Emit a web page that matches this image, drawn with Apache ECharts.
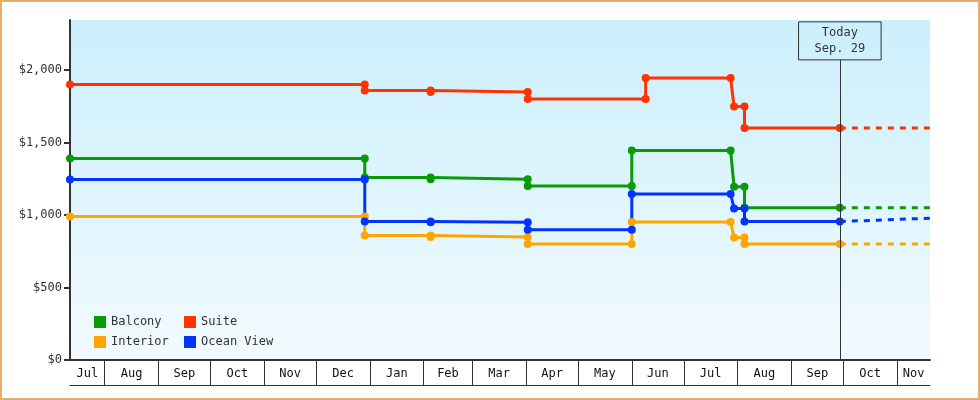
<!DOCTYPE html>
<html><head><meta charset="utf-8">
<script src="https://cdn.jsdelivr.net/npm/echarts@6/dist/echarts.min.js"></script>
<style>html,body{margin:0;padding:0;background:#fff}#c{width:980px;height:400px;box-sizing:border-box;border:2px solid #e9ac6a}</style>
</head><body><div id="c"></div>
<script>
// x = days since Jul 1 (first year)
var monthLabels = ['Jul','Aug','Sep','Oct','Nov','Dec','Jan','Feb','Mar','Apr','May','Jun','Jul','Aug','Sep','Oct','Nov'];
var monthStarts = [11,31,62,92,123,153,184,215,243,274,304,335,365,396,427,457,488,507];
var yTicks = [0,500,1000,1500,2000];
var todayX = 455;
var endX = 507;
var balcony = [[11,1390],[181,1390],[181,1258],[219,1258],[219,1246],[275,1246],[275,1200],[335,1200],[335,1445],[392,1445],[394,1195],[400,1195],[400,1050],[455,1050]];
var suite = [[11,1900],[181,1900],[181,1858],[219,1858],[219,1848],[275,1848],[275,1800],[343,1800],[343,1945],[392,1945],[394,1748],[400,1748],[400,1600],[455,1600]];
var interior = [[11,990],[181,990],[181,858],[219,858],[219,848],[275,848],[275,800],[335,800],[335,952],[392,952],[394,845],[400,845],[400,800],[455,800]];
var ocean = [[11,1245],[181,1245],[181,955],[219,955],[219,950],[275,950],[275,898],[335,898],[335,1145],[392,1145],[394,1045],[400,1045],[400,955],[455,955]];
var balconyFut = [[455,1050],[507,1050]];
var suiteFut = [[455,1600],[507,1600]];
var interiorFut = [[455,800],[507,800]];
var oceanFut = [[455,955],[507,978]];
var colors = {Balcony:'#079b06', Suite:'#ff3300', Interior:'#ffa500', 'Ocean View':'#0033ff'};

var mid = [];
for (var i=0;i<monthLabels.length;i++) mid.push((monthStarts[i]+monthStarts[i+1])/2);
var font = 'DejaVu Sans Mono';
function solid(name, data, extra){
  var s = {name:name,type:'line',data:data,symbol:'circle',symbolSize:8,color:colors[name],
    lineStyle:{width:3,color:colors[name]},itemStyle:{color:colors[name]},animation:false,z:3};
  if (extra) for (var k in extra) s[k]=extra[k];
  return s;
}
function fut(name, data){
  return {type:'line',data:data,showSymbol:false,symbol:'none',lineStyle:{width:3,type:[6,6],color:colors[name]},animation:false,silent:true};
}
function leg(name,left,top){
  return {data:[name],left:left,top:top,icon:'rect',itemWidth:12,itemHeight:12,itemGap:3,
    textStyle:{fontFamily:font,fontSize:12,color:'#333'},padding:0,selectedMode:false};
}
var chart = echarts.init(document.getElementById('c'));
chart.setOption({
  textStyle:{fontFamily:font},
  grid:{left:68,right:48,top:18,bottom:38,show:true,borderWidth:0,
    backgroundColor:{type:'linear',x:0,y:0,x2:0,y2:1,colorStops:[{offset:0,color:'#cbeffc'},{offset:1,color:'#f2fafe'}]}},
  legend:[leg('Balcony',92,314),leg('Suite',182,314),leg('Interior',92,334),leg('Ocean View',182,334)],
  xAxis:[{type:'value',min:11,max:507,position:'bottom',
    axisLine:{show:true,lineStyle:{color:'#333',width:2}},
    axisTick:{show:true,inside:false,length:25,customValues:monthStarts.slice(1,-1),lineStyle:{color:'#333',width:1}},
    axisLabel:{customValues:mid,formatter:function(v){return monthLabels[mid.indexOf(v)];},fontFamily:font,fontSize:12,color:'#111',margin:8},
    splitLine:{show:false}},
   {type:'value',min:11,max:507,position:'bottom',offset:25,
    axisLine:{show:true,lineStyle:{color:'#333',width:1}},axisTick:{show:false},axisLabel:{show:false},splitLine:{show:false}}],
  yAxis:{type:'value',min:0,max:2345,interval:500,
    axisLine:{show:true,lineStyle:{color:'#333',width:2}},
    axisTick:{show:true,length:6,lineStyle:{color:'#333',width:2}},
    axisLabel:{showMaxLabel:false,fontFamily:font,fontSize:12,color:'#333',
      formatter:function(v){return '$'+v.toLocaleString('en-US');}},
    splitLine:{show:false}},
  series:[
    solid('Balcony',balcony,{markLine:{symbol:'none',silent:true,animation:false,
      lineStyle:{color:'#333',width:1,type:'solid'},
      label:{show:true,position:'end',formatter:'Today\nSep. 29',fontFamily:font,fontSize:12,color:'#333',
        borderColor:'#333',borderWidth:1,padding:[3,16,3,16],lineHeight:16,distance:0},
      data:[[{coord:[todayX,0]},{coord:[todayX,2070]}]]}}),
    solid('Suite',suite), solid('Interior',interior), solid('Ocean View',ocean),
    fut('Balcony',balconyFut), fut('Suite',suiteFut), fut('Interior',interiorFut), fut('Ocean View',oceanFut)
  ]
});
</script></body></html>
